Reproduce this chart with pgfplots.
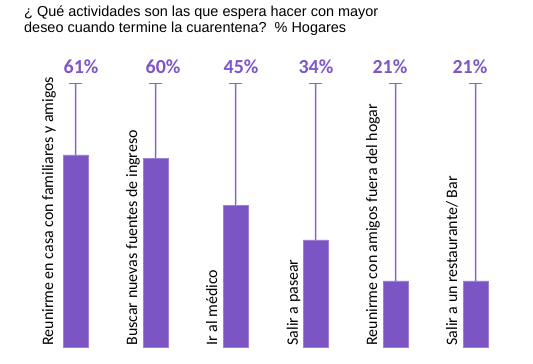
\documentclass[border=0pt]{standalone}
\usepackage{pgfplots}
\pgfplotsset{compat=1.18}
\usepackage{fontspec}
\setmainfont{Carlito}
\newfontfamily\arialfont{Liberation Sans}
\definecolor{barfill}{HTML}{7B55C4}
\definecolor{linec}{HTML}{8A60D2}
\definecolor{labc}{HTML}{7F56C9}
\begin{document}
\begin{tikzpicture}[x=1bp,y=1bp]
\useasboundingbox (0,0) rectangle (533,363);
\node[anchor=north west, inner sep=0, align=left, font=\arialfont\fontsize{14.5}{16}\selectfont] at (24,357)
  {¿ Qué actividades son las que espera hacer con mayor\\deseo cuando termine la cuarentena?\ \ \% Hogares};
\begin{axis}[
  at={(35.5bp,16bp)}, anchor=south west,
  scale only axis, width=480bp, height=315bp,
  xmin=-0.5, xmax=5.5, ymin=0, ymax=100,
  hide axis, clip=false,
]
% connector lines (thin filled bars)
\addplot[ybar, bar width=1.5bp, fill=linec, draw=none]
  coordinates {(0,83.6) (1,83.6) (2,83.6) (3,83.6) (4,83.6) (5,83.6)};
% caps
\addplot[only marks, mark=-, mark size=6.5bp, mark options={draw=linec, line width=1.5bp}]
  coordinates {(0,83.6) (1,83.6) (2,83.6) (3,83.6) (4,83.6) (5,83.6)};
% bars
\addplot[ybar, bar width=25bp, fill=barfill, draw=barfill!75!white, line width=0.6bp]
  coordinates {(0,61) (1,60) (2,45) (3,34) (4,21) (5,21)};
% value labels
\addplot[only marks, mark=none, point meta=explicit symbolic,
  nodes near coords, nodes near coords style={anchor=base, inner sep=0, text=labc, font=\fontsize{20}{24}\selectfont\bfseries}]
  coordinates {(0.069,86.7) [61\%] (1.094,86.7) [60\%] (2.069,86.7) [45\%] (3.006,86.7) [34\%] (3.931,86.7) [21\%] (4.931,86.7) [21\%]};
% category labels
\addplot[only marks, mark=none, point meta=explicit symbolic,
  nodes near coords, nodes near coords style={rotate=90, anchor=base west, inner sep=0, text=black, font=\fontsize{16}{19}\selectfont}]
  coordinates {(-0.281,0.4) [Reunirme en casa con familiares y amigos]
               (0.769,0.4) [Buscar nuevas fuentes de ingreso]
               (1.769,0.4) [Ir al médico]
               (2.781,0.4) [Salir a pasear]
               (3.769,0.4) [Reunirme con amigos fuera del hogar]
               (4.769,0.4) [Salir a un restaurante/ Bar]};
\end{axis}
\end{tikzpicture}
\end{document}
